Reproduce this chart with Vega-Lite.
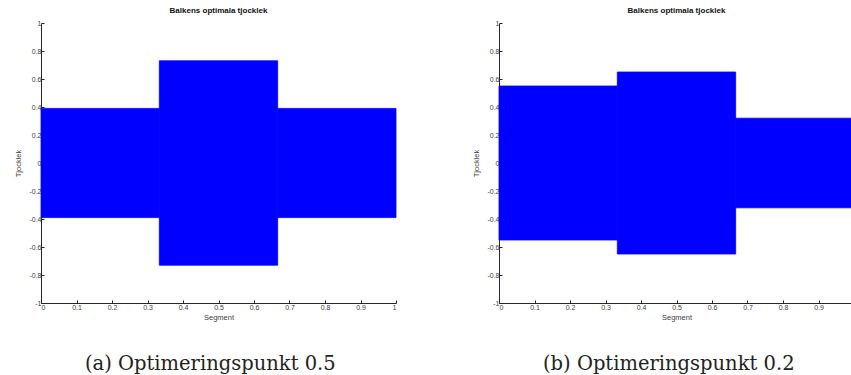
{
  "$schema": "https://vega.github.io/schema/vega-lite/v6.json",
  "padding": {"left": 14, "top": 7, "right": 0, "bottom": 6},
  "background": "white",
  "config": {
    "view": {"stroke": null},
    "font": "Liberation Sans",
    "axis": {
      "grid": false,
      "domainColor": "#262626",
      "tickColor": "#262626",
      "labelColor": "#404040",
      "titleColor": "#404040",
      "labelFont": "Liberation Sans",
      "titleFont": "Liberation Sans",
      "labelFontSize": 7,
      "titleFontSize": 7.5,
      "titleFontWeight": "normal",
      "tickSize": -3,
      "labelPadding": 3
    },
    "title": {"font": "Liberation Sans", "fontSize": 8, "fontWeight": "bold", "color": "#111111", "frame": "group", "offset": 4}
  },
  "datasets": {
    "a": [
      {"x0": 0, "x1": 0.3333, "lo": -0.39, "hi": 0.39},
      {"x0": 0.3333, "x1": 0.6667, "lo": -0.73, "hi": 0.73},
      {"x0": 0.6667, "x1": 1, "lo": -0.39, "hi": 0.39}
    ],
    "b": [
      {"x0": 0, "x1": 0.3333, "lo": -0.55, "hi": 0.55},
      {"x0": 0.3333, "x1": 0.6667, "lo": -0.65, "hi": 0.65},
      {"x0": 0.6667, "x1": 1, "lo": -0.32, "hi": 0.32}
    ]
  },
  "spacing": 75,
  "hconcat": [
    {
      "title": {"text": "(a) Optimeringspunkt 0.5", "orient": "bottom", "font": "DejaVu Serif", "fontSize": 19.5, "fontWeight": "normal", "color": "#222222", "dx": 44, "offset": 34},
      "vconcat": [
        {
          "title": "Balkens optimala tjocklek",
          "width": 355,
          "height": 280,
          "data": {"name": "a"},
          "mark": {"type": "rect", "color": "#0000ff", "stroke": "#0000ff", "strokeWidth": 0.8},
          "encoding": {
            "x": {"field": "x0", "type": "quantitative", "scale": {"domain": [0, 1], "nice": false}, "axis": {"title": "Segment", "values": [0, 0.1, 0.2, 0.3, 0.4, 0.5, 0.6, 0.7, 0.8, 0.9, 1], "labelExpr": "'' + datum.value", "titlePadding": 3}},
            "x2": {"field": "x1"},
            "y": {"field": "lo", "type": "quantitative", "scale": {"domain": [-1, 1], "nice": false}, "axis": {"title": "Tjocklek", "values": [-1, -0.8, -0.6, -0.4, -0.2, 0, 0.2, 0.4, 0.6, 0.8, 1], "labelExpr": "'' + datum.value", "titlePadding": 6}},
            "y2": {"field": "hi"}
          }
        }
      ]
    },
    {
      "title": {"text": "(b) Optimeringspunkt 0.2", "orient": "bottom", "font": "DejaVu Serif", "fontSize": 19.5, "fontWeight": "normal", "color": "#222222", "dx": 44, "offset": 34},
      "vconcat": [
        {
          "title": "Balkens optimala tjocklek",
          "width": 355,
          "height": 280,
          "data": {"name": "b"},
          "mark": {"type": "rect", "color": "#0000ff", "stroke": "#0000ff", "strokeWidth": 0.8},
          "encoding": {
            "x": {"field": "x0", "type": "quantitative", "scale": {"domain": [0, 1], "nice": false}, "axis": {"title": "Segment", "values": [0, 0.1, 0.2, 0.3, 0.4, 0.5, 0.6, 0.7, 0.8, 0.9], "labelExpr": "'' + datum.value", "titlePadding": 3}},
            "x2": {"field": "x1"},
            "y": {"field": "lo", "type": "quantitative", "scale": {"domain": [-1, 1], "nice": false}, "axis": {"title": "Tjocklek", "values": [-1, -0.8, -0.6, -0.4, -0.2, 0, 0.2, 0.4, 0.6, 0.8, 1], "labelExpr": "'' + datum.value", "titlePadding": 6}},
            "y2": {"field": "hi"}
          }
        }
      ]
    }
  ]
}
